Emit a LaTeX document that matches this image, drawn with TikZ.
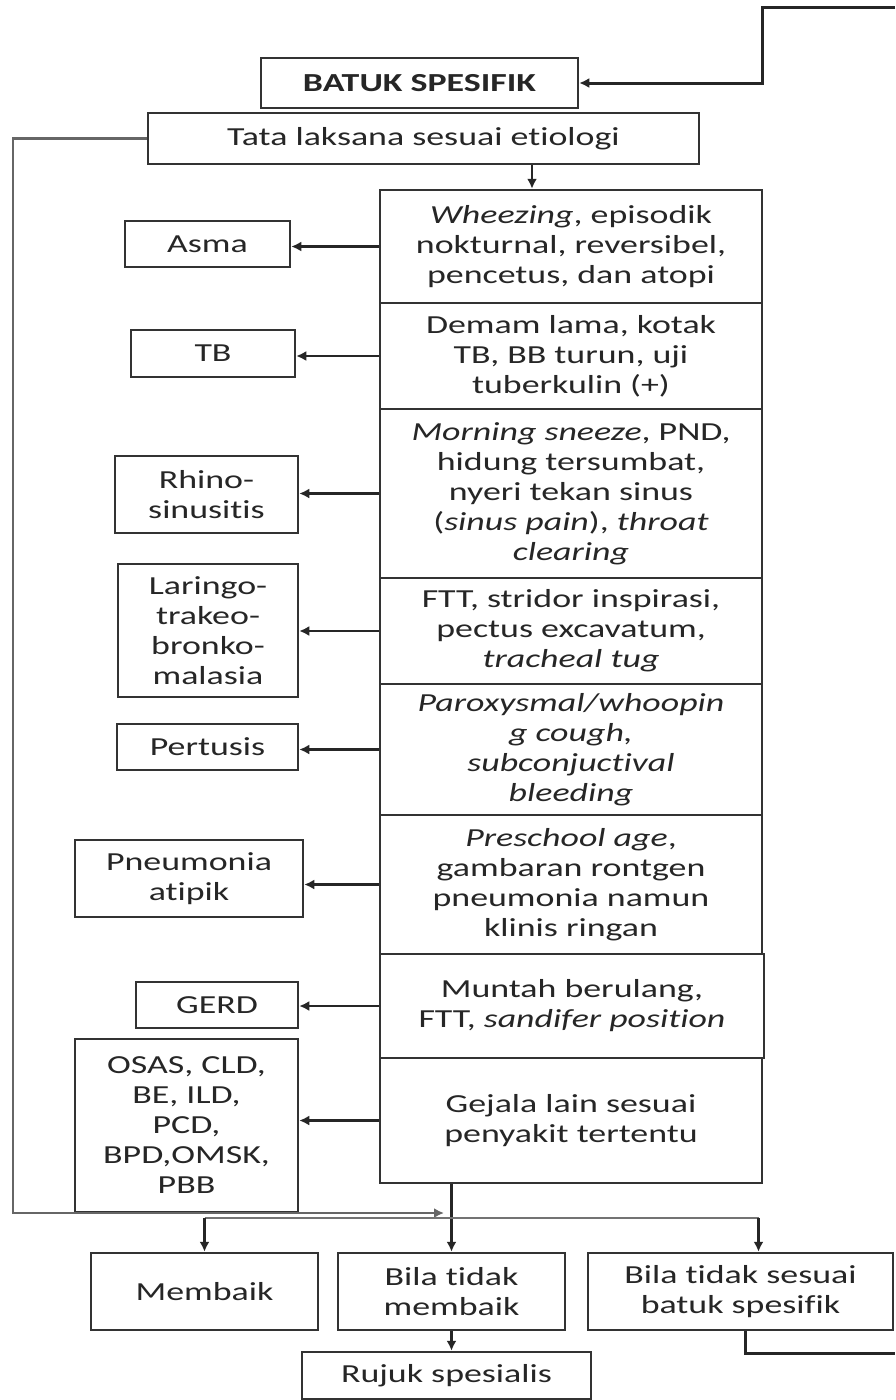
\documentclass[tikz,border=0pt]{standalone}
\usepackage{fontspec}
\setmainfont{Carlito}[FakeStretch=1.38, Ligatures=CommonOff]
\usetikzlibrary{arrows.meta}
\tikzset{
 box/.style={draw=black!80, line width=2.5pt, fill=white, inner sep=0pt, align=center, text=black!85, font=\fontsize{26}{30}\selectfont},
 arr/.style={line width=2.2pt, draw=black!85, -{Latex[length=10pt,width=10pt]}},
 ln/.style={line width=2.2pt, draw=black!85},
 gln/.style={line width=2pt, draw=black!55},
}
\begin{document}
\begin{tikzpicture}[x=1pt,y=-1pt]
\path[fill=white] (0,0) rectangle (895,1400);
\useasboundingbox (0,0) rectangle (895,1400);
% top nodes
\node[box, minimum width=317pt, minimum height=50pt, font=\bfseries\fontsize{26}{30}\selectfont] (batuk) at (419.5,83) {BATUK SPESIFIK};
\node[box, minimum width=551pt, minimum height=51pt] (tata) at (423.5,138.5) {Tata laksana sesuai etiologi};
% right column
\node[box, minimum width=382pt, minimum height=113pt] (r1) at (571,246.5) {\textit{Wheezing}, episodik\\nokturnal, reversibel,\\pencetus, dan atopi};
\node[box, minimum width=382pt, minimum height=106pt] (r2) at (571,356) {Demam lama, kotak\\TB, BB turun, uji\\tuberkulin (+)};
\node[box, minimum width=382pt, minimum height=169pt] (r3) at (571,493.5) {\textit{Morning sneeze}, PND,\\hidung tersumbat,\\nyeri tekan sinus\\(\textit{sinus pain}), \textit{throat}\\\textit{clearing}};
\node[box, minimum width=382pt, minimum height=106pt] (r4) at (571,631) {FTT, stridor inspirasi,\\pectus excavatum,\\\textit{tracheal tug}};
\node[box, minimum width=382pt, minimum height=131pt] (r5) at (571,749.5) {\textit{Paroxysmal/whoopin}\\\textit{g cough,}\\\textit{subconjuctival}\\\textit{bleeding}};
\node[box, minimum width=382pt, minimum height=139pt] (r6) at (571,884.5) {\textit{Preschool age},\\gambaran rontgen\\pneumonia namun\\klinis ringan};
\node[box, minimum width=384pt, minimum height=104pt] (r7) at (572,1006) {Muntah berulang,\\FTT, \textit{sandifer position}};
\node[box, minimum width=382pt, minimum height=125pt] (r8) at (571,1120.5) {Gejala lain sesuai\\penyakit tertentu};
% left column
\node[box, minimum width=165pt, minimum height=46pt] (asma) at (207.5,244) {Asma};
\node[box, minimum width=164pt, minimum height=47pt] (tb) at (213,353.5) {TB};
\node[box, minimum width=183pt, minimum height=77pt] (rhino) at (206.5,494.5) {Rhino-\\sinusitis};
\node[box, minimum width=180pt, minimum height=133pt] (laringo) at (208,630.5) {Laringo-\\trakeo-\\bronko-\\malasia};
\node[box, minimum width=181pt, minimum height=46pt] (pertusis) at (207.5,747) {Pertusis};
\node[box, minimum width=228pt, minimum height=77pt] (pneu) at (189,878.5) {Pneumonia\\atipik};
\node[box, minimum width=162pt, minimum height=46pt] (gerd) at (217,1005) {GERD};
\node[box, minimum width=223pt, minimum height=173pt] (osas) at (186.5,1125.5) {OSAS, CLD,\\BE, ILD,\\PCD,\\BPD,OMSK,\\PBB};
% bottom
\node[box, minimum width=227pt, minimum height=77pt] (membaik) at (204.5,1291.5) {Membaik};
\node[box, minimum width=227pt, minimum height=77pt] (bila) at (451.5,1291.5) {Bila tidak\\membaik};
\node[box, minimum width=305pt, minimum height=77pt] (sesuai) at (740.5,1291.5) {Bila tidak sesuai\\batuk spesifik};
\node[box, minimum width=289pt, minimum height=47pt] (rujuk) at (446.5,1375.5) {Rujuk spesialis};
% connectors
\coordinate (topin) at (895,7);
\draw[arr, line width=3pt] (topin) -- ++(-133,0) |- (batuk.east);
\coordinate (tataout) at ([xshift=108.5pt]tata.south);
\draw[arr] (tataout) -- (tataout |- r1.north);
\draw[arr] (r1.west) -- (r1.west -| asma.east);
\draw[arr] (r2.west) -- (r2.west -| tb.east);
\draw[arr] (r3.west) -- (r3.west -| rhino.east);
\draw[arr] (r4.west) -- (r4.west -| laringo.east);
\draw[arr] (r5.west) -- (r5.west -| pertusis.east);
\draw[arr] (r6.west) -- (r6.west -| pneu.east);
\draw[arr] (r7.west) -- (r7.west -| gerd.east);
\draw[arr] (r8.west) -- (r8.west -| osas.east);
\coordinate (merge) at (444,1213);
\draw[arr, draw=black!60] (tata.west) -- ++(-134,0) |- (merge);
\draw[arr] (r8.south -| bila.north) -- (bila.north);
\coordinate (dist) at (451.5,1218);
\coordinate (sesuaiin) at ([xshift=18pt]sesuai.north);
\draw[gln] (membaik.north |- dist) -- (sesuaiin |- dist);
\draw[arr] (membaik.north |- dist) -- (membaik.north);
\draw[arr] (sesuaiin |- dist) -- (sesuaiin);
\draw[arr] (bila.south) -- (bila.south |- rujuk.north);
\coordinate (botout) at (895,1353);
\coordinate (sesuaiout) at ([xshift=4.5pt]sesuai.south);
\draw[ln, line width=3pt] (sesuaiout) |- (botout);
\end{tikzpicture}
\end{document}
